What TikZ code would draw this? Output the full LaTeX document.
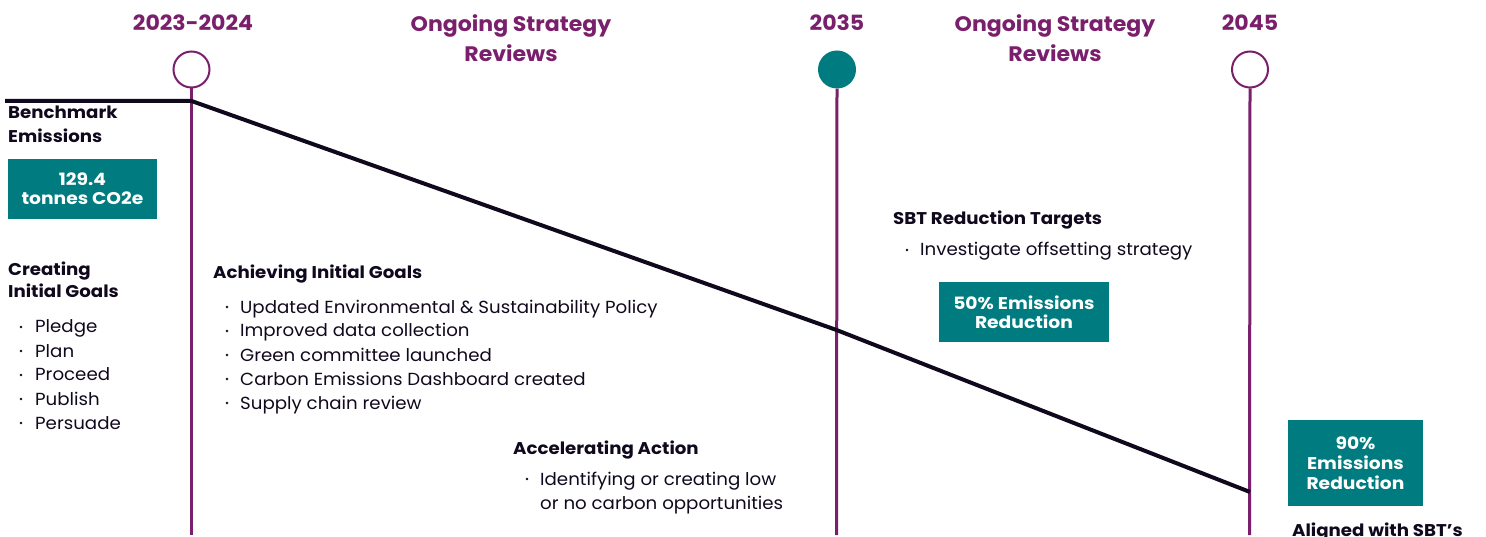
\documentclass[tikz,border=0pt]{standalone}
\usepackage{fontspec}
\setmainfont{Poppins}
\newfontfamily\regf[FakeStretch=1.04]{Poppins}
\newfontfamily\headf[FakeStretch=1.07]{Poppins}
\newfontfamily\titlef[FakeStretch=1.05]{Poppins}
\newfontfamily\boxf[FakeStretch=1.1]{Poppins}
\definecolor{mpurple}{RGB}{122,31,108}
\definecolor{mteal}{RGB}{0,123,128}
\definecolor{mdark}{RGB}{16,8,28}
\begin{document}
\begin{tikzpicture}[x=1pt,y=-1pt,
  year/.style={text=mpurple,font=\titlef\fontsize{21}{30}\selectfont\bfseries,align=center,inner sep=0},
  vline/.style={draw=mpurple,line width=3pt},
  ocirc/.style={circle,draw=mpurple,line width=2pt,fill=white,minimum size=36pt,inner sep=0},
  fcirc/.style={circle,fill=mteal,minimum size=38pt,inner sep=0},
  emline/.style={draw=mdark,line width=4pt},
  head/.style={anchor=base west,inner sep=0,text=mdark,font=\headf\fontsize{17}{22}\selectfont\bfseries},
  item/.style={anchor=base west,inner sep=0,text=mdark,font=\regf\fontsize{17.5}{22}\selectfont},
  dot/.style={circle,fill=mdark,inner sep=0,minimum size=2.6pt},
  tbox/.style={fill=mteal,text=white,inner sep=0,align=center,font=\boxf\fontsize{17}{19}\selectfont\bfseries},
]
\useasboundingbox (0,0) rectangle (1486,537);
% year titles
\node[year] (y1) at (193,23) {2023-2024};
\node[year] (r1) at (511,38) {Ongoing Strategy\\Reviews};
\node[year] (y2) at (837,23) {2035};
\node[year] (r2) at (1055,38) {Ongoing Strategy\\Reviews};
\node[year] (y3) at (1250,23) {2045};
% markers
\node[ocirc] (c1) at (191.5,69.5) {};
\node[fcirc] (c2) at (837,69.5) {};
\node[ocirc] (c3) at (1250,69.5) {};
\coordinate (b1) at (191.5,535);
\coordinate (b2) at (836.5,535);
\coordinate (b3) at (1249.5,535);
\draw[vline] (c1.south) -- (b1);
\draw[vline] (c2.south) -- (b2);
\draw[vline] (c3.south) -- (b3);
% emissions line
\coordinate (e0) at (5,101);
\coordinate (e1) at (191.5,101);
\coordinate (e2) at (836.5,330);
\coordinate (e3) at (1250,492);
\draw[emline,line join=round] (e0) -- (e1) -- (e2) -- (e3);
% benchmark
\node[head] (bm1) at (8,119) {Benchmark};
\node[head] (bm2) at (8,143) {Emissions};
\node[tbox,minimum width=149pt,minimum height=60pt] (bx1) at (82.5,189) {129.4\\tonnes CO2e};
% creating initial goals
\node[head] (cg1) at (8,276) {Creating};
\node[head] (cg2) at (8,298) {Initial Goals};
\foreach \t [count=\i] in {Pledge,Plan,Proceed,Publish,Persuade}{
  \node[dot] (cd\i) at (21,327+24*\i-24) {};
  \node[item] (ci\i) at (35,333+24*\i-24) {\t};
}
% achieving initial goals
\node[head] (ag) at (213,279) {Achieving Initial Goals};
\foreach \t [count=\i] in {Updated Environmental \& Sustainability Policy,Improved data collection,Green committee launched,Carbon Emissions Dashboard created,Supply chain review}{
  \node[dot] (ad\i) at (227,307+24*\i-24) {};
  \node[item] (ai\i) at (240,313+24*\i-24) {\t};
}
% accelerating action
\node[head] (aa) at (513,454) {Accelerating Action};
\node[dot] (aad) at (527,479) {};
\node[item] (aa1) at (540,485) {Identifying or creating low};
\node[item] (aa2) at (540,509) {or no carbon opportunities};
% SBT targets
\node[head] (sbt) at (893,225) {SBT Reduction Targets};
\node[dot] (sd) at (907,250) {};
\node[item] (s1) at (920,256) {Investigate offsetting strategy};
\node[tbox,minimum width=170pt,minimum height=60pt] (bx2) at (1024,312) {50\% Emissions\\Reduction};
% 2045
\node[tbox,font=\boxf\fontsize{17}{20}\selectfont\bfseries,minimum width=135pt,minimum height=86pt] (bx3) at (1355.5,463) {90\%\\Emissions\\Reduction};
\node[head] (al) at (1292,536) {Aligned with SBT’s};
\end{tikzpicture}
\end{document}
